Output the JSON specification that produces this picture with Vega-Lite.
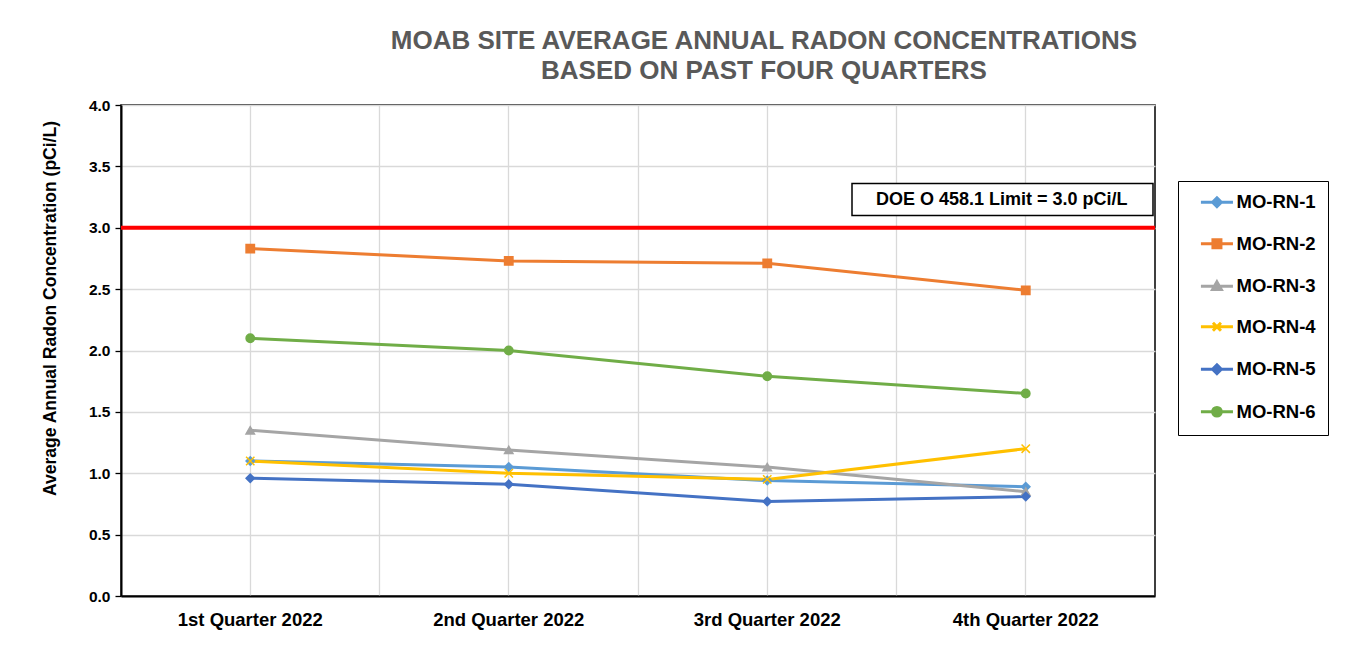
{
  "$schema": "https://vega.github.io/schema/vega-lite/v6.json",
  "autosize": {"type": "none"},
  "padding": {"left": 121, "top": 105, "right": 212, "bottom": 60},
  "width": 1034,
  "height": 491,
  "background": "white",
  "config": {
    "font": "Liberation Sans",
    "view": {"stroke": "#000000", "strokeWidth": 1.5}
  },
  "title": {
    "text": ["MOAB SITE AVERAGE ANNUAL RADON CONCENTRATIONS", "BASED ON PAST FOUR QUARTERS"],
    "anchor": "middle",
    "frame": "group",
    "dx": 126,
    "offset": 14,
    "fontSize": 26,
    "fontWeight": "bold",
    "color": "#595959",
    "lineHeight": 30,
    "font": "Liberation Sans"
  },
  "datasets": {
    "radon": [
      {"quarter": "1st Quarter 2022", "station": "MO-RN-1", "value": 1.10},
      {"quarter": "2nd Quarter 2022", "station": "MO-RN-1", "value": 1.05},
      {"quarter": "3rd Quarter 2022", "station": "MO-RN-1", "value": 0.94},
      {"quarter": "4th Quarter 2022", "station": "MO-RN-1", "value": 0.89},
      {"quarter": "1st Quarter 2022", "station": "MO-RN-2", "value": 2.83},
      {"quarter": "2nd Quarter 2022", "station": "MO-RN-2", "value": 2.73},
      {"quarter": "3rd Quarter 2022", "station": "MO-RN-2", "value": 2.71},
      {"quarter": "4th Quarter 2022", "station": "MO-RN-2", "value": 2.49},
      {"quarter": "1st Quarter 2022", "station": "MO-RN-3", "value": 1.35},
      {"quarter": "2nd Quarter 2022", "station": "MO-RN-3", "value": 1.19},
      {"quarter": "3rd Quarter 2022", "station": "MO-RN-3", "value": 1.05},
      {"quarter": "4th Quarter 2022", "station": "MO-RN-3", "value": 0.85},
      {"quarter": "1st Quarter 2022", "station": "MO-RN-4", "value": 1.10},
      {"quarter": "2nd Quarter 2022", "station": "MO-RN-4", "value": 1.00},
      {"quarter": "3rd Quarter 2022", "station": "MO-RN-4", "value": 0.95},
      {"quarter": "4th Quarter 2022", "station": "MO-RN-4", "value": 1.20},
      {"quarter": "1st Quarter 2022", "station": "MO-RN-5", "value": 0.96},
      {"quarter": "2nd Quarter 2022", "station": "MO-RN-5", "value": 0.91},
      {"quarter": "3rd Quarter 2022", "station": "MO-RN-5", "value": 0.77},
      {"quarter": "4th Quarter 2022", "station": "MO-RN-5", "value": 0.81},
      {"quarter": "1st Quarter 2022", "station": "MO-RN-6", "value": 2.10},
      {"quarter": "2nd Quarter 2022", "station": "MO-RN-6", "value": 2.00},
      {"quarter": "3rd Quarter 2022", "station": "MO-RN-6", "value": 1.79},
      {"quarter": "4th Quarter 2022", "station": "MO-RN-6", "value": 1.65}
    ],
    "limit": [
      {"label": "DOE O 458.1 Limit = 3.0 pCi/L", "limit": 3.0, "quarter": "4th Quarter 2022", "labelValue": 3.23}
    ]
  },
  "layer": [
    {
      "data": {"name": "limit"},
      "mark": {"type": "rule", "color": "#ff0000", "strokeWidth": 4},
      "encoding": {
        "y": {"field": "limit", "type": "quantitative", "scale": {"domain": [0, 4], "nice": false}}
      }
    },
    {
      "data": {"name": "radon"},
      "mark": {"type": "line", "strokeWidth": 3},
      "encoding": {
        "x": {
          "field": "quarter", "type": "nominal", "sort": null, "bandPosition": 0.5,
          "scale": {"type": "band", "paddingInner": 0, "paddingOuter": 0},
          "axis": {
            "title": null, "grid": true, "bandPosition": 0.5, "gridColor": "#d9d9d9", "gridWidth": 1.3,
            "ticks": false, "domainColor": "#000000", "domainWidth": 2, "labelAngle": 0,
            "labelFont": "Liberation Sans", "labelFontSize": 18.5, "labelFontWeight": "bold", "labelColor": "#000000",
            "labelPadding": 14
          }
        },
        "y": {
          "field": "value", "type": "quantitative",
          "scale": {"domain": [0, 4], "nice": false},
          "axis": {
            "title": "Average Annual Radon Concentration (pCi/L)",
            "values": [0, 0.5, 1, 1.5, 2, 2.5, 3, 3.5, 4],
            "format": ".1f",
            "grid": true, "gridColor": "#d9d9d9", "gridWidth": 1.3,
            "domainColor": "#000000", "domainWidth": 2,
            "tickColor": "#000000", "tickSize": 6, "tickWidth": 1.3,
            "labelFont": "Liberation Sans", "labelFontSize": 15.5, "labelFontWeight": "bold", "labelColor": "#000000",
            "labelPadding": 5,
            "titleFont": "Liberation Sans", "titleFontSize": 17.5, "titleFontWeight": "bold", "titleColor": "#000000",
            "titleX": -71, "titleY": 203, "titleAngle": -90, "titleAlign": "center", "titleBaseline": "middle"
          }
        },
        "color": {
          "field": "station", "type": "nominal",
          "scale": {
            "domain": ["MO-RN-1", "MO-RN-2", "MO-RN-3", "MO-RN-4", "MO-RN-5", "MO-RN-6"],
            "range": ["#5b9bd5", "#ed7d31", "#a5a5a5", "#ffc000", "#4472c4", "#70ad47"]
          },
          "legend": {
            "title": null,
            "orient": "none",
            "legendX": 1057,
            "legendY": 76,
            "strokeColor": "#000000",
            "padding": 12,
            "rowPadding": 20.5,
            "symbolSize": 212,
            "symbolStrokeWidth": 3,
            "labelOffset": 28,
            "labelFont": "Liberation Sans",
            "labelFontSize": 18.5,
            "labelFontWeight": "bold",
            "labelColor": "#000000",
            "encode": {
              "symbols": {
                "update": {
                  "shape": {"signal": "datum.value === 'MO-RN-2' ? 'M0.23,0L4.63,0M1.88,-0.55L2.98,-0.55L2.98,0.55L1.88,0.55Z' : datum.value === 'MO-RN-3' ? 'M0.23,0L4.63,0M2.43,-0.6L3.03,0.45L1.83,0.45Z' : datum.value === 'MO-RN-4' ? 'M0.23,0L4.63,0M1.88,-0.55L2.98,0.55M1.88,0.55L2.98,-0.55' : datum.value === 'MO-RN-6' ? 'M0.23,0L4.63,0M1.83,0A0.6,0.6 0 1,0 3.03,0A0.6,0.6 0 1,0 1.83,0Z' : 'M0.23,0L4.63,0M2.43,-0.6L3.03,0L2.43,0.6L1.83,0Z'"},
                  "fill": {"signal": "scale('color', datum.value)"},
                  "stroke": {"signal": "scale('color', datum.value)"},
                  "strokeWidth": {"value": 3},
                  "opacity": {"value": 1},
                  "fillOpacity": {"value": 1}
                }
              }
            }
          }
        }
      }
    },
    {
      "data": {"name": "radon"},
      "mark": {"type": "point", "filled": true, "opacity": 1, "size": 70, "strokeWidth": 1.5},
      "encoding": {
        "x": {
          "field": "quarter", "type": "nominal", "sort": null, "bandPosition": 0.5,
          "axis": {
            "orient": "top", "title": null, "grid": true, "bandPosition": 0, "gridColor": "#d9d9d9", "gridWidth": 1.3,
            "labels": false, "ticks": false, "domain": false
          }
        },
        "y": {"field": "value", "type": "quantitative"},
        "fill": {
          "field": "station", "type": "nominal", "legend": null,
          "scale": {
            "domain": ["MO-RN-1", "MO-RN-2", "MO-RN-3", "MO-RN-4", "MO-RN-5", "MO-RN-6"],
            "range": ["#5b9bd5", "#ed7d31", "#a5a5a5", "#ffc000", "#4472c4", "#70ad47"]
          }
        },
        "stroke": {
          "field": "station", "type": "nominal", "legend": null,
          "scale": {
            "domain": ["MO-RN-1", "MO-RN-2", "MO-RN-3", "MO-RN-4", "MO-RN-5", "MO-RN-6"],
            "range": ["#5b9bd5", "#ed7d31", "#a5a5a5", "#ffc000", "#4472c4", "#70ad47"]
          }
        },
        "shape": {
          "condition": [
            {"test": "datum.station === 'MO-RN-2'", "value": "square"},
            {"test": "datum.station === 'MO-RN-3'", "value": "triangle-up"},
            {"test": "datum.station === 'MO-RN-4'", "value": "M-1,-1L1,1M-1,1L1,-1"},
            {"test": "datum.station === 'MO-RN-6'", "value": "circle"}
          ],
          "value": "diamond"
        }
      }
    },
    {
      "data": {"name": "limit"},
      "mark": {
        "type": "point", "filled": true, "fill": "#ffffff", "stroke": "#000000", "strokeWidth": 1.5, "opacity": 1,
        "size": 10000, "shape": "M-3.475,-0.32L2.545,-0.32L2.545,0.32L-3.475,0.32Z"
      },
      "encoding": {
        "x": {"field": "quarter", "type": "nominal", "bandPosition": 0.5, "axis": null},
        "y": {"field": "labelValue", "type": "quantitative"}
      }
    },
    {
      "data": {"name": "limit"},
      "mark": {
        "type": "text", "dx": -24, "align": "center", "baseline": "middle",
        "font": "Liberation Sans", "fontSize": 18, "fontWeight": "bold", "color": "#000000"
      },
      "encoding": {
        "x": {"field": "quarter", "type": "nominal", "bandPosition": 0.5, "axis": null},
        "y": {"field": "labelValue", "type": "quantitative"},
        "text": {"field": "label"}
      }
    }
  ],
  "resolve": {"axis": {"x": "independent"}}
}
